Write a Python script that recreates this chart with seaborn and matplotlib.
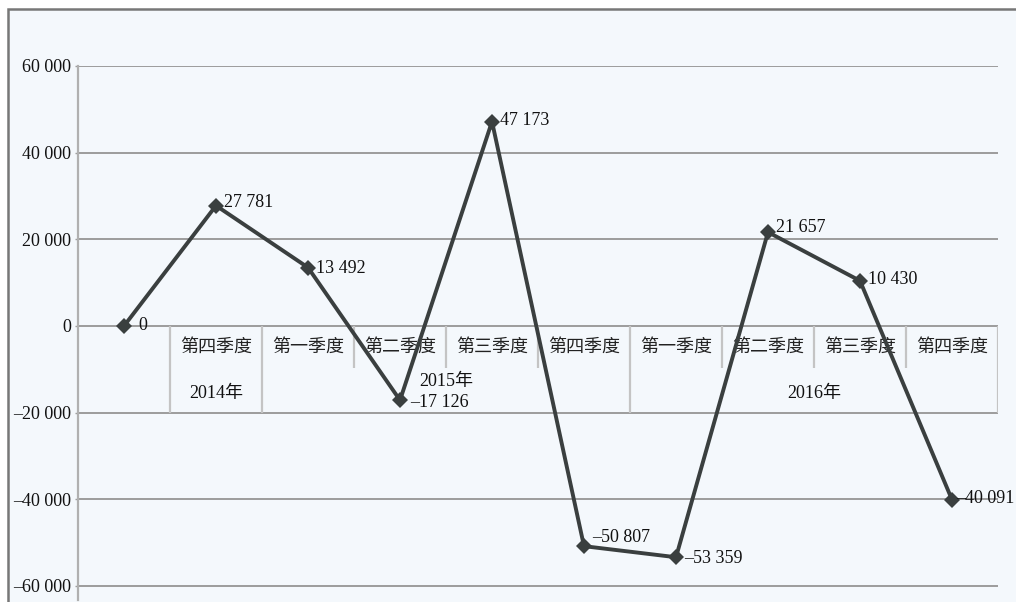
import matplotlib
matplotlib.use("Agg")
import matplotlib.pyplot as plt
import seaborn as sns
import pandas as pd
from matplotlib.patches import Rectangle

# ---- data ----
quarters = ["", "第四季度", "第一季度", "第二季度", "第三季度", "第四季度",
            "第一季度", "第二季度", "第三季度", "第四季度"]
values = [0, 27781, 13492, -17126, 47173, -50807, -53359, 21657, 10430, -40091]
years = ["2014年", "2015年", "2016年"]
year_first = [1, 2, 6]
year_last = [1, 5, 9]
yticks = [-60000, -40000, -20000, 0, 20000, 40000, 60000]


def fmt(v):
    s = f"{abs(int(v)):,}".replace(",", " ")
    return ("–" + s) if v < 0 else s


sns.set_theme(style="white")
plt.rcParams["font.family"] = ["Liberation Serif", "Noto Sans CJK SC"]

W, H = 1016, 602
fig = plt.figure(figsize=(W / 100, H / 100), dpi=100, facecolor="white")

# outer chart frame
frame = Rectangle((8 / W, -0.05), 1.2, 1 - 9 / H + 0.05,
                  transform=fig.transFigure, facecolor="#f4f8fc",
                  edgecolor="#777777", linewidth=1.8, zorder=-10)
fig.patches.append(frame)

left, right, top, bottom = 78, 998, 66, 600
ax = fig.add_axes([left / W, 1 - bottom / H, (right - left) / W, (bottom - top) / H])
ax.set_facecolor("none")
ax.set_zorder(1)

ymin = -60000 - (bottom - 586) / 260 * 60000
ax.set_ylim(ymin, 60000)
ax.set_xlim(-0.5, len(values) - 0.5)

# gridlines
for t in yticks:
    ax.axhline(t, color="#9c9c9c", linewidth=1.4, zorder=1)

# category table under the axis
full = [0.5, 1.5, 5.5, 9.5]
short = [2.5, 3.5, 4.5, 6.5, 7.5, 8.5]
ax.vlines(full, -20000, 0, color="#c4c4c4", linewidth=1.6, zorder=1)
ax.vlines(short, -9700, 0, color="#c4c4c4", linewidth=1.6, zorder=1)
for i, q in enumerate(quarters):
    if q:
        ax.text(i, -4800, q, ha="center", va="center", fontsize=13,
                family=["Noto Sans CJK SC"], color="#222222", zorder=2)
year_y = [-15500, -12900, -15500]
for y, a, b, yy in zip(years, year_first, year_last, year_y):
    ax.text((a + b) / 2, yy, y, ha="center", va="center", fontsize=13,
            family=["Liberation Serif", "Noto Sans CJK SC"], color="#111111", zorder=2)

df = pd.DataFrame({"idx": range(len(values)), "value": values})
sns.lineplot(data=df, x="idx", y="value", ax=ax, color="#3a3f3f", linewidth=2.8,
             marker="D", markersize=8, markeredgewidth=0, zorder=4)

label_dx = [10, 6, 6, 7, 6, 6, 6, 6, 6, 3]
label_dy = [0, 2, -1, -2, 1, 6, -1, 3, 1, 1]
for i, (v, dx, dy) in enumerate(zip(values, label_dx, label_dy)):
    ax.annotate(fmt(v), (i, v), xytext=(dx, dy), textcoords="offset points",
                ha="left", va="center", fontsize=13, color="#111111", zorder=5,
                family=["Liberation Serif"], annotation_clip=False)

ax.set_yticks(yticks)
ax.set_yticklabels([fmt(t) for t in yticks], fontsize=13, color="#111111")
ax.set_xticks([])
ax.tick_params(axis="y", length=2, width=1, color="#9c9c9c", pad=3, left=True)
for s in ["top", "right", "bottom"]:
    ax.spines[s].set_visible(False)
ax.spines["left"].set_color("#b0b0b0")
ax.spines["left"].set_linewidth(1.6)
ax.set_xlabel("")
ax.set_ylabel("")

fig.savefig("out.png", dpi=100, facecolor="white")
